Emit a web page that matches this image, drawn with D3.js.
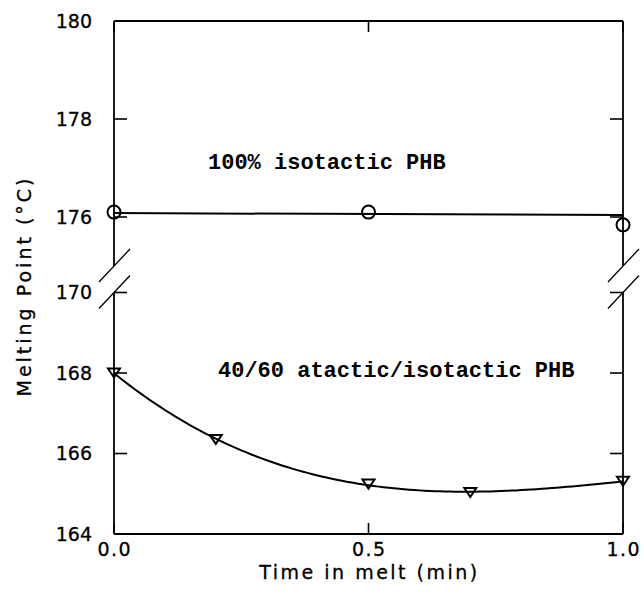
<!DOCTYPE html>
<html>
<head>
<meta charset="utf-8">
<script src="https://cdn.jsdelivr.net/npm/d3@7/dist/d3.min.js"></script>
<style>
  html, body { margin: 0; padding: 0; background: #fff; }
  svg { display: block; }
  .tick-label { font-family: "DejaVu Sans", sans-serif; font-size: 19px; fill: #000; stroke: #000; stroke-width: 0.3px; }
  .axis-title { font-family: "DejaVu Sans", sans-serif; font-size: 19px; fill: #000; stroke: #000; stroke-width: 0.3px; }
  .note { font-family: "Liberation Mono", "Courier New", monospace; font-weight: bold; font-size: 22px; fill: #000; }
</style>
</head>
<body>
<svg id="chart" width="644" height="597"></svg>
<script>
// Melting point vs. time in the melt for two PHB samples
const timeIso = [0, 0.5, 1.0];
const meltIso = [176.1, 176.1, 175.84];
// straight reference line drawn through the isotactic series
const isoLineTime = [0, 1.0];
const isoLineMelt = [176.08, 176.04];

const timeBlend = [0, 0.2, 0.5, 0.7, 1.0];
const meltBlend = [168.0, 166.35, 165.24, 165.03, 165.31];

const xTicks = [0, 0.5, 1.0];
const xTickLabels = ["0.0", "0.5", "1.0"];
const yTicksUpper = [176, 178, 180];
const yTicksLower = [164, 166, 168, 170];

const labelIso = "100% isotactic PHB";
const labelBlend = "40/60 atactic/isotactic PHB";
const xTitle = "Time in melt (min)";
const yTitle = "Melting Point (°C)";

const svg = d3.select("#chart");

// Plot frame
const frameL = 114, frameR = 623, frameT = 21, frameB = 534;
const upperBottomPx = 266;   // where the upper axis segment stops (break)
const lowerTopPx = 292.5;    // where the lower axis segment resumes

const x = d3.scaleLinear().domain([0, 1]).range([frameL, frameR]);
const yUp = d3.scaleLinear().domain([176, 180]).range([217, frameT]);
const yLo = d3.scaleLinear().domain([164, 170]).range([frameB, lowerTopPx]);

const ink = "#000";
const g = svg.append("g");

// Frame lines
const frame = g.append("g").attr("stroke", ink).attr("stroke-width", 1.8).attr("fill", "none");
frame.append("line").attr("x1", frameL).attr("x2", frameR).attr("y1", frameT).attr("y2", frameT);
frame.append("line").attr("x1", frameL).attr("x2", frameR).attr("y1", frameB).attr("y2", frameB);
[frameL, frameR].forEach(px => {
  frame.append("line").attr("x1", px).attr("x2", px).attr("y1", frameT).attr("y2", upperBottomPx);
  frame.append("line").attr("x1", px).attr("x2", px).attr("y1", lowerTopPx).attr("y2", frameB);
  // break marks: two parallel slashes
  [upperBottomPx, lowerTopPx].forEach(py => {
    frame.append("line")
      .attr("stroke-width", 1.3)
      .attr("x1", px - 15).attr("y1", py + 16)
      .attr("x2", px + 16).attr("y2", py - 17);
  });
});

// Inward tick marks
const tickLen = 13;
const ticks = g.append("g").attr("stroke", ink).attr("stroke-width", 1.6);
yTicksUpper.concat(yTicksLower).forEach(v => {
  const py = v >= 175 ? yUp(v) : yLo(v);
  ticks.append("line").attr("x1", frameL).attr("x2", frameL + tickLen).attr("y1", py).attr("y2", py);
  ticks.append("line").attr("x1", frameR).attr("x2", frameR - tickLen).attr("y1", py).attr("y2", py);
});
xTicks.forEach(v => {
  ticks.append("line").attr("x1", x(v)).attr("x2", x(v)).attr("y1", frameB).attr("y2", frameB - tickLen + 2);
  ticks.append("line").attr("x1", x(v)).attr("x2", x(v)).attr("y1", frameT).attr("y2", frameT + tickLen - 2);
});

// Y tick labels
yTicksUpper.forEach(v => {
  g.append("text").attr("class", "tick-label").attr("text-anchor", "end")
    .attr("x", frameL - 22).attr("y", yUp(v)).attr("dy", "0.36em").text(v);
});
yTicksLower.forEach(v => {
  g.append("text").attr("class", "tick-label").attr("text-anchor", "end")
    .attr("x", frameL - 22).attr("y", yLo(v)).attr("dy", "0.36em").text(v);
});

// X tick labels
xTicks.forEach((v, i) => {
  g.append("text").attr("class", "tick-label").attr("text-anchor", "middle")
    .attr("x", x(v) + 0.75).attr("y", 556).attr("letter-spacing", "1.5px").text(xTickLabels[i]);
});

// Axis titles
g.append("text").attr("class", "axis-title").attr("text-anchor", "middle")
  .attr("x", (frameL + frameR) / 2 + 1).attr("y", 579).attr("letter-spacing", "2.5px").text(xTitle);
g.append("text").attr("class", "axis-title").attr("text-anchor", "middle")
  .attr("transform", "translate(31,286) rotate(-90)").attr("letter-spacing", "3px").text(yTitle);

// Isotactic: straight line + open circles
const isoLine = d3.line().x(d => x(d[0])).y(d => yUp(d[1]));
g.append("path")
  .datum(isoLineTime.map((t, i) => [t, isoLineMelt[i]]))
  .attr("d", isoLine).attr("fill", "none").attr("stroke", ink).attr("stroke-width", 2);
g.append("g").selectAll("circle")
  .data(timeIso.map((t, i) => [t, meltIso[i]]))
  .join("circle")
  .attr("cx", d => x(d[0])).attr("cy", d => yUp(d[1])).attr("r", 6.5)
  .attr("fill", "none").attr("stroke", ink).attr("stroke-width", 2);

// Blend: least-squares cubic through the measured points
function polyFit(xs, ys, deg) {
  const n = deg + 1;
  const A = Array.from({length: n}, () => new Array(n + 1).fill(0));
  xs.forEach((xv, k) => {
    for (let i = 0; i < n; i++) {
      for (let j = 0; j < n; j++) A[i][j] += Math.pow(xv, i + j);
      A[i][n] += ys[k] * Math.pow(xv, i);
    }
  });
  for (let c = 0; c < n; c++) {
    let p = c;
    for (let r = c + 1; r < n; r++) if (Math.abs(A[r][c]) > Math.abs(A[p][c])) p = r;
    [A[c], A[p]] = [A[p], A[c]];
    for (let r = 0; r < n; r++) {
      if (r === c) continue;
      const f = A[r][c] / A[c][c];
      for (let j = c; j <= n; j++) A[r][j] -= f * A[c][j];
    }
  }
  return A.map((row, i) => row[n] / A[i][i]);
}
const coef = polyFit(timeBlend, meltBlend, 3);
const evalPoly = t => coef.reduce((s, c, i) => s + c * Math.pow(t, i), 0);
const fitPts = d3.range(0, 1.0001, 0.01).map(t => [t, evalPoly(t)]);
g.append("path")
  .datum(fitPts)
  .attr("d", d3.line().x(d => x(d[0])).y(d => yLo(d[1])))
  .attr("fill", "none").attr("stroke", ink).attr("stroke-width", 2);

// Downward open triangles
const tri = d3.path();
tri.moveTo(-6, -4.5); tri.lineTo(6, -4.5); tri.lineTo(0, 4.5); tri.closePath();
g.append("g").selectAll("path")
  .data(timeBlend.map((t, i) => [t, meltBlend[i]]))
  .join("path")
  .attr("d", tri.toString())
  .attr("transform", d => `translate(${x(d[0])},${yLo(d[1])})`)
  .attr("fill", "none").attr("stroke", ink).attr("stroke-width", 2).attr("stroke-linejoin", "miter");

// Series annotations
g.append("text").attr("class", "note").attr("x", 208).attr("y", 169).text(labelIso);
g.append("text").attr("class", "note").attr("x", 218).attr("y", 377).text(labelBlend);
</script>
</body>
</html>
